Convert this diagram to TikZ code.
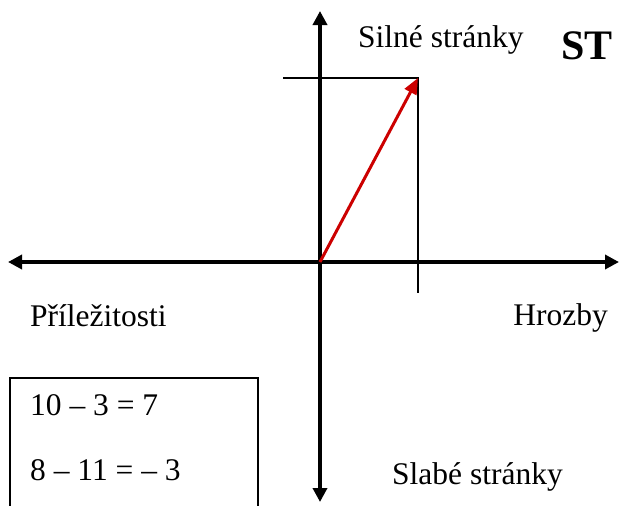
\documentclass[tikz,border=0pt]{standalone}
\usepackage{fontspec}
\setmainfont{Liberation Serif}
\usetikzlibrary{arrows.meta}
\definecolor{vecred}{RGB}{204,0,0}
\begin{document}
\begin{tikzpicture}[x=1pt,y=-1pt,
  axis/.style={line width=4.5pt,-{Triangle[length=14pt,width=14pt]}},
  thin/.style={line width=1.4pt},
  lbl/.style={inner sep=0pt,font=\fontsize{31.5}{36}\selectfont},
  boxline/.style={line width=1.3pt}]
\useasboundingbox (0,0) rectangle (619,506);
% axis end points
\coordinate (O) at (320,262);
\coordinate (top) at (320,11);
\coordinate (bot) at (320,502);
\coordinate (lft) at (8,262);
\coordinate (rgt) at (619,262);
\coordinate (P) at (418,78);
\coordinate (hl) at (283,78);
\coordinate (vb) at (418,293);
\coordinate (b1) at (10,506);
\coordinate (b2) at (10,378);
\coordinate (b3) at (258,378);
\coordinate (b4) at (258,506);
% axes
\draw[axis] (O) -- (top);
\draw[axis] (O) -- (bot);
\draw[axis] (O) -- (lft);
\draw[axis] (O) -- (rgt);
% thin guide lines
\draw[thin] (hl) -- (P) -- (vb);
% red vector
\draw[vecred,line width=3pt,-{Triangle[length=16pt,width=13pt]}] (O) -- (P);
% box
\draw[boxline] (b1) -- (b2) -- (b3) -- (b4);
% labels
\node[lbl,anchor=base west] (silne) at (358,47) {Silné stránky};
\node[inner sep=0pt,anchor=base west,font=\fontsize{42}{48}\selectfont\bfseries] (st) at (561,59) {ST};
\node[lbl,anchor=base west] (prilez) at (30,326) {Příležitosti};
\node[lbl,anchor=base east] (hrozby) at (608,325) {Hrozby};
\node[lbl,anchor=base west] (slabe) at (392,484) {Slabé stránky};
\node[lbl,anchor=base west] (eq1) at (30,415) {10 – 3 = 7};
\node[lbl,anchor=base west] (eq2) at (30,480) {8 – 11 = – 3};
\end{tikzpicture}
\end{document}
